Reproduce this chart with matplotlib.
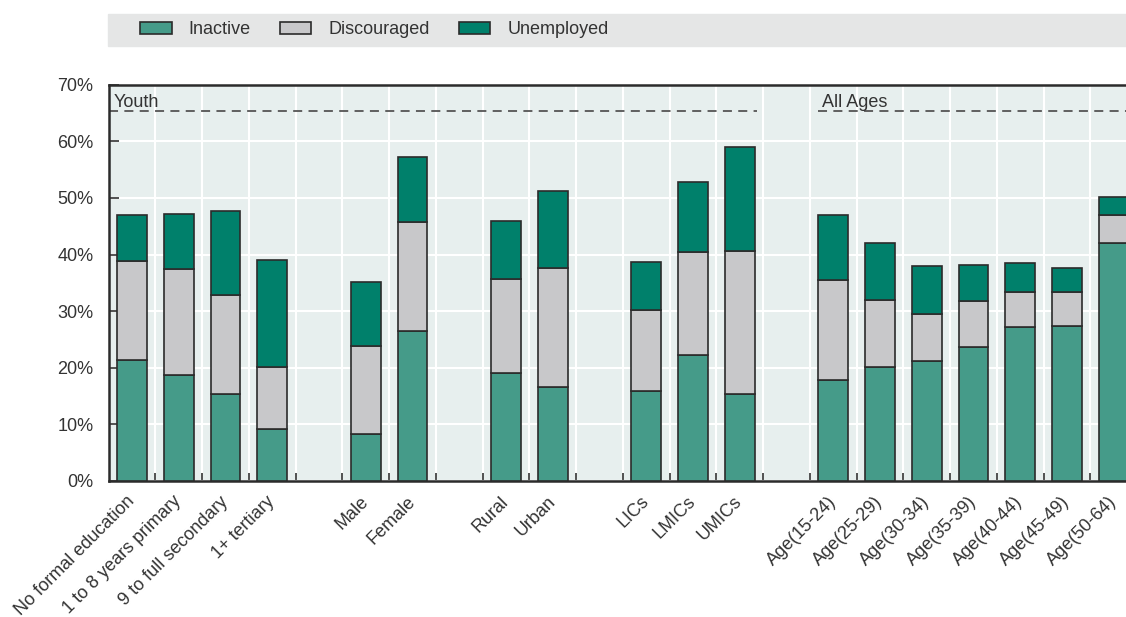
import matplotlib
matplotlib.use("Agg")
import matplotlib.pyplot as plt
from matplotlib.patches import Rectangle
import numpy as np

plt.rcParams['font.family'] = ['Liberation Sans', 'DejaVu Sans']
plt.rcParams['text.color'] = '#333333'

# categories grouped, a blank slot goes between groups
groups = [
    ['No formal education', '1 to 8 years primary', '9 to full secondary', '1+ tertiary'],
    ['Male', 'Female'],
    ['Rural', 'Urban'],
    ['LICs', 'LMICs', 'UMICs'],
    ['Age(15-24)', 'Age(25-29)', 'Age(30-34)', 'Age(35-39)', 'Age(40-44)', 'Age(45-49)', 'Age(50-64)'],
]

# cumulative tops (%)
inactive_top = [21.4, 18.7, 15.4, 9.2, 8.2, 26.4, 19.1, 16.6, 15.8, 22.2, 15.4,
                17.9, 20.2, 21.1, 23.7, 27.2, 27.4, 42.1]
discouraged_top = [38.8, 37.5, 32.8, 20.1, 23.8, 45.7, 35.6, 37.6, 30.2, 40.4, 40.7,
                   35.5, 32.0, 29.5, 31.8, 33.3, 33.3, 47.0]
total_top = [46.9, 47.2, 47.7, 39.0, 35.1, 57.2, 45.9, 51.2, 38.7, 52.8, 59.0,
             46.9, 42.0, 38.0, 38.2, 38.5, 37.7, 50.2]

series = ['Inactive', 'Discouraged', 'Unemployed']
colors = ['#459b89', '#c8c8ca', '#00806b']

labels = []
xpos = []
pos = 0
for g in groups:
    for name in g:
        labels.append(name)
        xpos.append(pos)
        pos += 1
    pos += 1
xpos = np.array(xpos)
nslots = pos - 1

inactive = np.array(inactive_top)
discouraged = np.array(discouraged_top) - inactive
unemployed = np.array(total_top) - np.array(discouraged_top)

fs = 13

fig = plt.figure(figsize=(11.26, 6.17), dpi=100)
ax = fig.add_axes([0.09645, 0.2206, 0.9134, 0.6421])
ax.set_facecolor('#e7efee')

edge = '#2b2b2b'
w = 0.64
b1 = ax.bar(xpos, inactive, w, color=colors[0], edgecolor=edge, linewidth=1.2, zorder=3, label=series[0])
b2 = ax.bar(xpos, discouraged, w, bottom=inactive, color=colors[1], edgecolor=edge, linewidth=1.2, zorder=3, label=series[1])
b3 = ax.bar(xpos, unemployed, w, bottom=inactive + discouraged, color=colors[2], edgecolor=edge, linewidth=1.2, zorder=3, label=series[2])

ax.set_xlim(-0.5, nslots - 0.5)
ax.set_ylim(0, 70)

ax.set_yticks(np.arange(0, 71, 10))
ax.set_yticklabels([f'{v}%' for v in range(0, 71, 10)])
ax.tick_params(axis='y', direction='in', length=7, width=1.2, color='#333333',
               labelsize=fs, labelcolor='#333333', pad=11)

ax.set_xticks(xpos)
ax.set_xticklabels(labels, rotation=45, ha='right', va='center', rotation_mode='anchor')
ax.tick_params(axis='x', which='major', length=0, labelsize=fs, labelcolor='#333333', pad=13)
ax.set_xticks(np.arange(-0.5, nslots, 1)[1:], minor=True)
ax.tick_params(axis='x', which='minor', direction='in', length=6, width=1.2, color='#333333')

ax.yaxis.grid(True, color='white', linewidth=1.5, zorder=1)
ax.xaxis.grid(True, which='minor', color='white', linewidth=1.5, zorder=1)
ax.set_axisbelow(True)

for s in ['left', 'top', 'bottom']:
    ax.spines[s].set_color('#2b2b2b')
    ax.spines[s].set_linewidth(1.8)
ax.spines['right'].set_visible(False)

# section markers
ax.plot([-0.5, 13.37], [65.4, 65.4], ls=(0, (5, 3.5)), color='#555555', lw=1.3, zorder=2)
ax.plot([14.67, nslots - 0.5], [65.4, 65.4], ls=(0, (5, 3.5)), color='#555555', lw=1.3, zorder=2)
ax.text(-0.39, 66.0, 'Youth', fontsize=fs, va='baseline', ha='left')
ax.text(14.76, 66.0, 'All Ages', fontsize=fs, va='baseline', ha='left')

# legend band
fig.add_artist(Rectangle((108 / 1126, 1 - 46 / 617), 1 - 108 / 1126, 32 / 617,
                         transform=fig.transFigure, color='#e5e6e6', zorder=0))
fig.legend(handles=[b1, b2, b3], labels=series, loc='center left',
           bbox_to_anchor=(140 / 1126, 1 - 30 / 617), ncol=3, frameon=False,
           fontsize=fs, handlelength=1.75, handleheight=0.65, handletextpad=0.95,
           columnspacing=1.6, borderpad=0, borderaxespad=0)

fig.savefig('out.png', dpi=100)
